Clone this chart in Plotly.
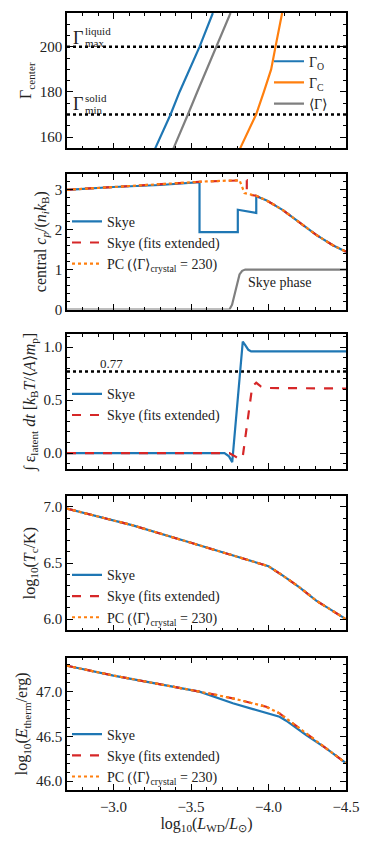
import plotly.graph_objects as go
from plotly.subplots import make_subplots

# --- panel 1: central coupling parameter ---
gamma_o_x = [-3.269, -3.368, -3.426, -3.490, -3.555, -3.641]
gamma_o_y = [155, 170, 180, 190, 200, 215]
gamma_c_x = [-3.817, -3.852, -3.920, -3.970, -4.017, -4.045, -4.088]
gamma_c_y = [155, 160, 170, 180, 190, 200, 215]
gamma_avg_x = [-3.387, -3.419, -3.480, -3.540, -3.602, -3.667, -3.755]
gamma_avg_y = [155, 160, 170, 180, 190, 200, 215]
gamma_liquid_max = 200
gamma_solid_min = 170

# --- panel 2: central heat capacity ---
cp_skye_x = [-2.7, -3.0, -3.3, -3.555, -3.555, -3.802, -3.802, -3.921, -3.921,
             -3.985, -4.093, -4.2, -4.308, -4.415, -4.5]
cp_skye_y = [3.0, 3.07, 3.12, 3.19, 1.94, 1.94, 2.50, 2.42, 2.84,
             2.74, 2.49, 2.17, 1.87, 1.61, 1.45]
cp_ext_x = [-2.7, -3.0, -3.3, -3.6, -3.86, -3.86, -3.921,
            -3.985, -4.093, -4.2, -4.308, -4.415, -4.5]
cp_ext_y = [3.0, 3.07, 3.13, 3.21, 3.24, 2.89, 2.85,
            2.74, 2.49, 2.17, 1.87, 1.61, 1.45]
cp_pc_x = [-2.7, -3.0, -3.3, -3.6, -3.813, -3.83, -3.845, -3.921,
           -3.985, -4.093, -4.2, -4.308, -4.415, -4.5]
cp_pc_y = [3.0, 3.07, 3.13, 3.21, 3.24, 3.05, 2.92, 2.85,
           2.74, 2.49, 2.17, 1.87, 1.61, 1.45]
phase_x = [-2.7, -3.748, -3.765, -3.79, -3.813, -3.83, -3.85, -4.5]
phase_y = [0, 0, 0.12, 0.55, 0.88, 0.97, 1.0, 1.0]

# --- panel 3: integrated latent heat ---
lat_skye_x = [-2.7, -3.716, -3.745, -3.766, -3.78, -3.81, -3.826, -3.834,
              -3.85, -3.87, -3.888, -4.5]
lat_skye_y = [0, 0, -0.03, -0.084, 0.15, 0.7, 0.98, 1.053,
              1.02, 0.975, 0.96, 0.96]
lat_ext_x = [-2.7, -3.748, -3.79, -3.813, -3.835, -3.866, -3.895, -3.921,
             -3.95, -3.974, -4.5]
lat_ext_y = [0, 0, -0.035, -0.059, -0.02, 0.32, 0.63, 0.664,
             0.63, 0.615, 0.61]
lat_ref = 0.77

# --- panel 4: central temperature ---
tc_x = [-2.7, -3.125, -3.5, -3.77, -4.0, -4.093, -4.2, -4.308, -4.415, -4.5]
tc_y = [6.985, 6.836, 6.681, 6.567, 6.472, 6.388, 6.284, 6.165, 6.075, 6.0]

# --- panel 5: thermal energy ---
eth_skye_x = [-2.7, -3.0, -3.555, -3.77, -3.9, -4.071, -4.114, -4.243, -4.372, -4.5]
eth_skye_y = [47.29, 47.18, 47.0, 46.87, 46.805, 46.72, 46.675, 46.515, 46.366, 46.2]
eth_ext_x = [-2.7, -3.0, -3.555, -3.77, -3.985, -4.071, -4.157, -4.243, -4.372, -4.5]
eth_ext_y = [47.29, 47.18, 47.0, 46.925, 46.832, 46.757, 46.645, 46.533, 46.37, 46.2]

x_range = [-2.7, -4.5]

BLUE = "#1f77b4"
ORANGE = "#ff7f0e"
RED = "#d62728"
GRAY = "#7f7f7f"
FONT = "Liberation Serif"

SKYE = "Skye"
EXT = "Skye (fits extended)"
PC = "PC (⟨Γ⟩<sub>crystal</sub> = 230)"

fig = make_subplots(rows=5, cols=1, shared_xaxes=True)


def line(x, y, color, dash="solid", name=None, legend=None, width=2.2):
    return go.Scatter(x=x, y=y, mode="lines", name=name,
                      line=dict(color=color, dash=dash, width=width),
                      showlegend=name is not None, legend=legend,
                      hoverinfo="skip")


def hline(yv):
    return line(x_range, [yv, yv], "black", dash="dot", width=2.5)


# panel 1
fig.add_trace(hline(gamma_liquid_max), row=1, col=1)
fig.add_trace(hline(gamma_solid_min), row=1, col=1)
fig.add_trace(line(gamma_o_x, gamma_o_y, BLUE, name="Γ<sub>O</sub>", legend="legend"), row=1, col=1)
fig.add_trace(line(gamma_c_x, gamma_c_y, ORANGE, name="Γ<sub>C</sub>", legend="legend"), row=1, col=1)
fig.add_trace(line(gamma_avg_x, gamma_avg_y, GRAY, name="⟨Γ⟩", legend="legend"), row=1, col=1)

# panel 2
fig.add_trace(line(phase_x, phase_y, GRAY), row=2, col=1)
fig.add_trace(line(cp_skye_x, cp_skye_y, BLUE, name=SKYE, legend="legend2"), row=2, col=1)
fig.add_trace(line(cp_ext_x, cp_ext_y, RED, dash="dash", name=EXT, legend="legend2"), row=2, col=1)
fig.add_trace(line(cp_pc_x, cp_pc_y, ORANGE, dash="dot", name=PC, legend="legend2"), row=2, col=1)

# panel 3
fig.add_trace(hline(lat_ref), row=3, col=1)
fig.add_trace(line(lat_skye_x, lat_skye_y, BLUE, name=SKYE, legend="legend3"), row=3, col=1)
fig.add_trace(line(lat_ext_x, lat_ext_y, RED, dash="dash", name=EXT, legend="legend3"), row=3, col=1)

# panel 4
fig.add_trace(line(tc_x, tc_y, BLUE, name=SKYE, legend="legend4"), row=4, col=1)
fig.add_trace(line(tc_x, tc_y, RED, dash="dash", name=EXT, legend="legend4"), row=4, col=1)
fig.add_trace(line(tc_x, tc_y, ORANGE, dash="dot", name=PC, legend="legend4"), row=4, col=1)

# panel 5
fig.add_trace(line(eth_skye_x, eth_skye_y, BLUE, name=SKYE, legend="legend5"), row=5, col=1)
fig.add_trace(line(eth_ext_x, eth_ext_y, RED, dash="dash", name=EXT, legend="legend5"), row=5, col=1)
fig.add_trace(line(eth_ext_x, eth_ext_y, ORANGE, dash="dot", name=PC, legend="legend5"), row=5, col=1)

axis_style = dict(showline=True, linecolor="black", linewidth=1.5, mirror="allticks",
                  ticks="inside", ticklen=6, tickwidth=1.2, tickcolor="black",
                  showgrid=False, zeroline=False,
                  tickfont=dict(family=FONT, size=15, color="#222"),
                  minor=dict(ticks="inside", ticklen=3, tickwidth=1, tickcolor="black"))

# page body has an 8px margin, so the figure is laid out 8px smaller
domains = [[0.8258, 1.0], [0.6184, 0.793], [0.413, 0.5863], [0.2054, 0.3787], [0.0, 0.1703]]
y_cfg = [
    dict(range=[155, 215], tick0=160, dtick=20, minor_dtick=5,
         title="Γ<sub>center</sub>"),
    dict(range=[0, 3.4], tick0=0, dtick=1, minor_dtick=0.2,
         title="central <i>c<sub>p</sub></i>/(<i>n<sub>i</sub>k</i><sub>B</sub>)"),
    dict(range=[-0.15, 1.12], tick0=0, dtick=0.5, minor_dtick=0.1, tickformat=".1f",
         title="∫ ε<sub>latent</sub> <i>dt</i> [<i>k</i><sub>B</sub><i>T</i>/⟨<i>A</i>⟩<i>m</i><sub>p</sub>]"),
    dict(range=[5.9, 7.1], tick0=6, dtick=0.5, minor_dtick=0.1, tickformat=".1f",
         title="log<sub>10</sub>(<i>T</i><sub>c</sub>/K)"),
    dict(range=[45.9, 47.38], tick0=46, dtick=0.5, minor_dtick=0.1, tickformat=".1f",
         title="log<sub>10</sub>(<i>E</i><sub>therm</sub>/erg)"),
]

for i, cfg in enumerate(y_cfg):
    r = i + 1
    fig.update_yaxes(axis_style, row=r, col=1)
    fig.update_yaxes(range=cfg["range"], tick0=cfg["tick0"], dtick=cfg["dtick"],
                     minor_dtick=cfg["minor_dtick"], tickformat=cfg.get("tickformat"),
                     domain=domains[i],
                     title=dict(text=cfg["title"], font=dict(family=FONT, size=16, color="#222"),
                                standoff=4),
                     row=r, col=1)
    fig.update_xaxes(axis_style, row=r, col=1)
    fig.update_xaxes(range=x_range, tick0=-3.0, dtick=0.5, minor_dtick=0.1,
                     tickformat=".1f", row=r, col=1)

fig.update_xaxes(title=dict(text="log<sub>10</sub>(<i>L</i><sub>WD</sub>/<i>L</i><sub>⊙</sub>)",
                            font=dict(family=FONT, size=16, color="#222"), standoff=4),
                 ticklabelstandoff=2, row=5, col=1)

ann_font = dict(family=FONT, color="#222")
annotations = [
    dict(x=-2.768, y=204.1, text="Γ", font=dict(size=18, **ann_font), xref="x", yref="y"),
    dict(x=-2.806, y=207.2, text="liquid", font=dict(size=11, **ann_font), xref="x", yref="y",
         xanchor="left"),
    dict(x=-2.806, y=201.6, text="max", font=dict(size=11, **ann_font), xref="x", yref="y",
         xanchor="left"),
    dict(x=-2.768, y=174.6, text="Γ", font=dict(size=18, **ann_font), xref="x", yref="y"),
    dict(x=-2.806, y=177.2, text="solid", font=dict(size=11, **ann_font), xref="x", yref="y",
         xanchor="left"),
    dict(x=-2.806, y=171.9, text="min", font=dict(size=11, **ann_font), xref="x", yref="y",
         xanchor="left"),
    dict(x=-3.856, y=0.68, text="Skye phase", font=dict(size=14, **ann_font), xref="x2", yref="y2",
         xanchor="left"),
    dict(x=-2.897, y=0.85, text="0.77", font=dict(size=13, **ann_font), xref="x3", yref="y3",
         xanchor="left"),
]
for a in annotations:
    a["showarrow"] = False

leg = dict(font=dict(family=FONT, size=14, color="#222"), bgcolor="rgba(0,0,0,0)",
           xanchor="left", yanchor="top", tracegroupgap=0, itemwidth=30)

fig.update_layout(
    width=366, height=836,
    margin=dict(l=59, r=28, t=3, b=54),
    plot_bgcolor="white", paper_bgcolor="white",
    font=dict(family=FONT, color="#222"),
    annotations=annotations,
    legend=dict(leg, x=0.724, y=0.958),
    legend2=dict(leg, x=0.0, y=0.752),
    legend3=dict(leg, x=0.0, y=0.530),
    legend4=dict(leg, x=0.0, y=0.297),
    legend5=dict(leg, x=0.0, y=0.092),
)

fig.write_html("out.html")
